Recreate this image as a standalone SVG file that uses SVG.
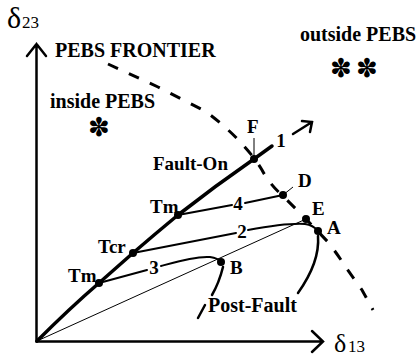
<svg xmlns="http://www.w3.org/2000/svg" width="417" height="358" viewBox="0 0 417 358" font-family="'Liberation Serif', serif">
<defs>
<style>
.b{font-family:'Liberation Serif',serif;font-weight:bold;font-size:19px}
.big{font-family:'Liberation Serif',serif;font-weight:bold;font-size:20px}
.r{font-family:'Liberation Serif',serif}
.ax{fill:none;stroke:#000;stroke-width:2.5;stroke-linecap:round;stroke-linejoin:miter}
.traj{fill:none;stroke:#000;stroke-width:2;stroke-linecap:round}
.thick{fill:none;stroke:#000;stroke-width:3.5;stroke-linecap:round}
.thin{fill:none;stroke:#000;stroke-width:1}
.front{fill:none;stroke:#000;stroke-width:3;stroke-dasharray:11 12}
.dot{fill:#000}
.star{font-family:'DejaVu Sans',sans-serif;font-size:26px;text-anchor:middle}
</style>
</defs>
<rect width="417" height="358" fill="#fff"/>
<g id="axes">
<path class="ax" d="M36.5,341.5 V44 M27,56 L36.5,44 L46,56"/>
<path class="ax" d="M36.5,341.5 H322 M312,331 L323,341.5 L312,352"/>
<text class="r" x="7" y="28" font-size="30">δ</text>
<text class="r" x="22" y="28" font-size="17">23</text>
<text class="r" x="334" y="352" font-size="26">δ</text>
<text class="r" x="348" y="352" font-size="17">13</text>
</g>
<g id="frontier">
<path class="front" d="M108,64 L158,87 L205,111 Q228,128 243,145 Q255,158 262,170 Q270,185 283,196 L306,219 L328,242 Q338,255 345,266 L362,290 L373,310"/>
<text class="big" x="55" y="56.5">PEBS FRONTIER</text>
</g>
<g id="regions">
<text class="big" x="50" y="108">inside PEBS</text>
<text class="star" x="99" y="136">✽</text>
<text class="big" x="300" y="41">outside PEBS</text>
<text class="star" x="341" y="77">✽</text>
<text class="star" x="367" y="77">✽</text>
</g>
<g id="connectors">
<path class="thin" d="M37,341 L306,219"/>
<path class="thick" d="M37,341 Q70,308 99,283 L133,253 Q155,234 178,215 Q215,186 254,159 L272,146"/>
<path class="thick" d="M293,134 L312,122 M302,121 L312,122 L310,132" style="stroke-width:2.5"/>
<path class="traj" d="M99,283 L147,270 M161,266 C180,261 198,256 210,257 Q218,258 221,262"/>
<path class="traj" d="M133,253 L236,233 M248,230 C270,226 290,223 305,224 Q313,225 318,231"/>
<path class="traj" d="M178,215 L232,205 M245,203 L283,195"/>
<path class="thin" d="M283,195 L293,187 M254,159 V138"/>
<path class="traj" style="stroke-width:2.5" d="M223,267 Q219,283 212,295 M205,305 L198,318"/>
<path class="traj" style="stroke-width:2.5" d="M318,236 Q320,262 298,293"/>
</g>
<g id="fault-on">
<text class="b" x="153" y="170">Fault-On</text>
<text class="b" x="247" y="133">F</text>
<circle class="dot" cx="254" cy="159" r="4"/>
<text class="b" x="281" y="147" text-anchor="middle">1</text>
</g>
<g id="Tm1"><circle class="dot" cx="99" cy="283" r="4"/><text class="b" x="68" y="282">Tm</text></g>
<g id="Tcr"><circle class="dot" cx="133" cy="253" r="4"/><text class="b" x="98" y="253">Tcr</text></g>
<g id="Tm2"><circle class="dot" cx="178" cy="215" r="4"/><text class="b" x="150" y="213">Tm</text></g>
<g id="label3"><text class="b" x="154" y="274" text-anchor="middle">3</text></g>
<g id="label2"><text class="b" x="242" y="238" text-anchor="middle">2</text></g>
<g id="label4"><text class="b" x="238" y="210" text-anchor="middle">4</text></g>
<g id="D"><circle class="dot" cx="283" cy="195" r="4"/><text class="b" x="298" y="187">D</text></g>
<g id="E"><circle class="dot" cx="306" cy="219" r="4"/><text class="b" x="312" y="215">E</text></g>
<g id="A"><circle class="dot" cx="318" cy="231" r="4"/><text class="b" x="327" y="234">A</text></g>
<g id="B"><circle class="dot" cx="221" cy="262" r="4"/><text class="b" x="230" y="274">B</text></g>
<g id="post-fault"><text class="big" x="208" y="312">Post-Fault</text></g>
</svg>
